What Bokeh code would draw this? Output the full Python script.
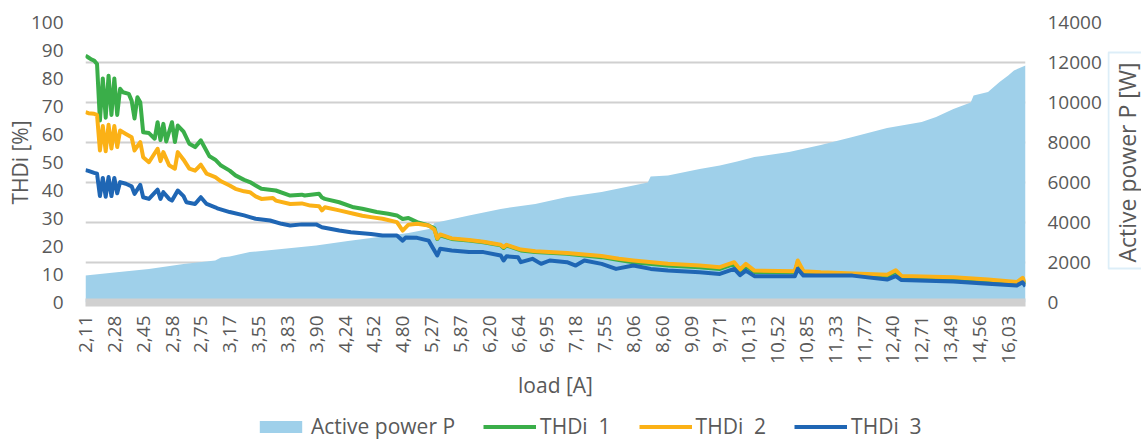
from math import pi
from bokeh.plotting import figure
from bokeh.layouts import row, column
from bokeh.models import (ColumnDataSource, Range1d, LinearAxis, FixedTicker,
                          Grid, Legend, LegendItem, BoxAnnotation)
from bokeh.embed import file_html
from bokeh.resources import INLINE

# ---------------- data ----------------
tick_labels = ["2,11", "2,28", "2,45", "2,58", "2,75", "3,17", "3,55", "3,83",
               "3,90", "4,24", "4,52", "4,80", "5,27", "5,87", "6,20", "6,64",
               "6,95", "7,18", "7,55", "8,06", "8,60", "9,09", "9,71", "10,13",
               "10,52", "10,85", "11,33", "11,77", "12,40", "12,71", "13,49",
               "14,56", "16,03"]
n_points = 327  # measurement index 0..326, every 10th one labelled

power_idx = [0, 10, 22, 34, 45, 47, 50, 57, 68, 80,
             91, 103, 112, 120, 121, 133, 144, 156, 167, 179,
             190, 195, 196, 202, 213, 220, 226, 232, 244, 255,
             266, 278, 290, 295, 301, 307, 308, 313, 317, 320,
             322, 326]
power_val = [1350, 1500, 1680, 1930, 2100, 2250, 2300, 2520, 2680, 2850,
             3070, 3300, 3470, 3700, 3980, 4350, 4680, 4930, 5270, 5520,
             5850, 6000, 6300, 6350, 6680, 6850, 7050, 7270, 7520, 7880,
             8270, 8720, 9020, 9270, 9680, 10000, 10350, 10520, 11020, 11350,
             11600, 11850]

thd1_idx = [0, 1, 2, 3, 4, 5, 6, 7, 8, 9,
            10, 11, 12, 13, 15, 16, 17, 18, 19, 20,
            22, 24, 25, 26, 27, 28, 30, 31, 32, 34,
            36, 38, 40, 41, 43, 45, 47, 50, 52, 55,
            57, 59, 61, 66, 71, 75, 76, 81, 82, 83,
            88, 93, 96, 101, 105, 108, 110, 112, 115, 119,
            121, 122, 123, 127, 133, 138, 144, 145, 146, 151,
            156, 167, 179, 185, 190, 202, 213, 220, 225, 227,
            229, 232, 246, 247, 249, 255, 266, 278, 281, 283,
            301, 313, 323, 325, 326]
thd1_val = [88.2, 87.5, 86.8, 86.4, 85.2, 65, 80, 66, 81, 67,
            80, 67, 76.3, 75.1, 74.5, 72.1, 65.7, 73.3, 71.5, 60.8,
            60.5, 58.5, 64.4, 58, 63.8, 57.5, 64.4, 57.3, 63.2, 61,
            56.7, 55.5, 57.9, 56, 52.2, 51, 48.9, 47.1, 45.4, 43.8,
            43, 41.8, 40.6, 40, 38.2, 38.5, 38.2, 38.8, 37.5, 37,
            35.8, 34, 33.5, 32.3, 31.7, 31.1, 29.8, 30.2, 28.7, 27.5,
            26.5, 22.7, 24, 22.7, 22.1, 21.5, 20.4, 19.5, 20.4, 18.6,
            18, 17.4, 16.2, 15.2, 14.4, 13.2, 12.6, 12, 13.8, 11.3,
            13.2, 10.9, 10.8, 14.4, 10.8, 10.3, 10.1, 9.4, 11, 9.1,
            8.5, 7.7, 6.8, 8.3, 6.5]

thd2_idx = [0, 1, 3, 4, 5, 6, 7, 8, 9, 10,
            11, 12, 14, 16, 17, 19, 20, 22, 25, 26,
            27, 29, 31, 32, 34, 36, 38, 40, 42, 45,
            47, 50, 52, 55, 57, 59, 61, 65, 66, 71,
            75, 78, 81, 82, 83, 88, 93, 96, 99, 103,
            108, 110, 112, 115, 119, 121, 122, 123, 127, 133,
            138, 144, 145, 146, 151, 156, 167, 179, 185, 190,
            202, 213, 220, 225, 227, 229, 232, 246, 247, 249,
            255, 278, 281, 283, 301, 313, 323, 325, 326]
thd2_val = [68, 67.6, 67.4, 67, 54.3, 63, 54, 63.5, 55, 63,
            55.5, 61.4, 60.2, 59, 54.3, 57.3, 51.9, 50.1, 54.9, 50.5,
            53.7, 49, 47.8, 53.7, 51, 47.8, 47.1, 49.2, 46, 44.8,
            43.3, 41.8, 40.6, 39.7, 39.4, 37.9, 37, 37.3, 36.4, 35.2,
            35.4, 34.6, 34.4, 32.9, 34, 32.9, 31.7, 31, 30.5, 29.9,
            28.7, 25.7, 27.8, 28.1, 27.5, 26, 22.9, 24.3, 22.9, 22.3,
            21.7, 20.6, 19.8, 20.6, 18.9, 18.3, 17.7, 16.6, 15.6, 15,
            13.8, 13.2, 12.6, 14.4, 11.8, 13.8, 11.4, 11.2, 15, 11.2,
            10.8, 9.9, 11.5, 9.5, 9.05, 8.2, 7.3, 8.8, 7]

thd3_idx = [0, 1, 3, 4, 5, 6, 7, 8, 9, 10,
            11, 12, 14, 16, 17, 19, 20, 22, 25, 26,
            27, 29, 30, 32, 34, 35, 38, 39, 40, 42,
            45, 46, 50, 55, 57, 59, 64, 68, 71, 75,
            80, 82, 88, 92, 99, 103, 108, 110, 111, 115,
            119, 122, 123, 127, 133, 138, 144, 145, 146, 150,
            151, 155, 158, 161, 167, 170, 173, 179, 184, 190,
            196, 202, 213, 220, 225, 227, 229, 232, 246, 247,
            249, 255, 266, 278, 281, 283, 301, 313, 323, 325,
            326]
thd3_val = [47.3, 47, 46.3, 46, 38, 44.5, 37.8, 44.8, 38, 44.5,
            39, 43, 42.4, 41.5, 38.8, 42, 37.6, 37, 40.3, 37,
            39.4, 37, 36.4, 40, 38, 35.8, 35.2, 36.4, 37.6, 35.2,
            34, 33.5, 32.3, 31.1, 30.5, 29.9, 29.3, 28.1, 27.5, 27.9,
            27.9, 26.9, 25.7, 25.1, 24.5, 23.9, 23.9, 22.1, 23.2, 23.1,
            22.1, 16.8, 19.2, 18.6, 18, 18, 16.8, 15, 16.5, 16.2,
            14.4, 15.6, 13.8, 15, 14.4, 13.2, 15, 13.8, 12, 13.2,
            12, 11.4, 10.8, 10.2, 12, 9.8, 11.4, 9.4, 9.4, 12,
            9.6, 9.6, 9.6, 8.2, 9.4, 8, 7.5, 6.7, 6.1, 7.2,
            5.8]

thd_ticks = list(range(0, 101, 10))
power_ticks = list(range(0, 14001, 2000))
legend_labels = ["Active power P", "THDi  1", "THDi  2", "THDi  3"]
right_title = "Active power P [W]"

# ---------------- styling ----------------
FONT = "Open Sans"
TXT = "#595959"
C_AREA = "#9fd0ea"
C_G = "#3aae49"
C_O = "#fbb116"
C_B = "#1f66b4"
MAIN_W, SIDE_W = 1107, 34
MAIN_H, LEG_H = 402, 39
FRAME_TOP, FRAME_BOTTOM = 22, 302

p = figure(width=MAIN_W, height=MAIN_H, output_backend="svg", toolbar_location=None,
           x_range=Range1d(0, n_points - 1), y_range=Range1d(0, 100),
           min_border_left=85, min_border_right=MAIN_W - 1025, min_border_top=FRAME_TOP,
           min_border_bottom=MAIN_H - FRAME_BOTTOM)
p.outline_line_color = None
p.background_fill_color = "white"
p.border_fill_color = "white"
p.extra_y_ranges = {"power": Range1d(0, 14000)}
p.xgrid.visible = False
p.ygrid.visible = False

grid = Grid(dimension=1, ticker=FixedTicker(ticks=power_ticks[1:]),
            y_range_name="power", grid_line_color="#d0d0d0", grid_line_width=2)
p.add_layout(grid)

src_p = ColumnDataSource(dict(x=power_idx, y=power_val))
src_1 = ColumnDataSource(dict(x=thd1_idx, y=thd1_val))
src_2 = ColumnDataSource(dict(x=thd2_idx, y=thd2_val))
src_3 = ColumnDataSource(dict(x=thd3_idx, y=thd3_val))

p.varea(x="x", y1=0, y2="y", source=src_p, fill_color=C_AREA, y_range_name="power")
p.line(x="x", y="y", source=src_1, line_color=C_G, line_width=4, line_join="round")
p.line(x="x", y="y", source=src_2, line_color=C_O, line_width=4, line_join="round")
p.line(x="x", y="y", source=src_3, line_color=C_B, line_width=4, line_join="round")


def plain_axis(ax, standoff, label_size="21px"):
    ax.axis_line_color = None
    ax.major_tick_line_color = None
    ax.minor_tick_line_color = None
    ax.major_tick_out = 0
    ax.major_tick_in = 0
    ax.minor_tick_out = 0
    ax.minor_tick_in = 0
    ax.major_label_standoff = standoff
    ax.major_label_text_font = FONT
    ax.major_label_text_font_size = "19px"
    ax.major_label_text_color = TXT
    ax.axis_label_text_font = FONT
    ax.axis_label_text_font_size = label_size
    ax.axis_label_text_font_style = "normal"
    ax.axis_label_text_color = TXT


# x axis
xa = p.xaxis[0]
plain_axis(xa, 13)
xa.ticker = FixedTicker(ticks=[i * 10 for i in range(len(tick_labels))])
xa.major_label_overrides = {i * 10: lab for i, lab in enumerate(tick_labels)}
xa.major_label_orientation = pi / 2
xa.axis_line_color = "#d0d0d0"
xa.axis_line_width = 8
xa.axis_label = "load [A]"
xa.axis_label_standoff = 4

# left axis
ya = p.yaxis[0]
plain_axis(ya, 22)
ya.ticker = FixedTicker(ticks=thd_ticks)
ya.axis_label = "THDi [%]"
ya.axis_label_standoff = -6

# right axis
ra = LinearAxis(y_range_name="power", ticker=FixedTicker(ticks=power_ticks))
plain_axis(ra, 22)
p.add_layout(ra, "right")

# narrow companion figure: boxed right-hand axis title (axis label drawn into its
# frame); its frame is level with the main frame, 1 y unit = 1 pixel
frame_h = FRAME_BOTTOM - FRAME_TOP
side = figure(width=SIDE_W, height=MAIN_H, output_backend="svg", toolbar_location=None,
              x_axis_type=None, min_border_left=0, min_border_right=0,
              min_border_top=FRAME_TOP, min_border_bottom=MAIN_H - FRAME_BOTTOM,
              x_range=Range1d(0, SIDE_W), y_range=Range1d(0, frame_h))
side.outline_line_color = None
side.xgrid.visible = False
side.ygrid.visible = False
sa = side.yaxis[0]
plain_axis(sa, 0, label_size="23px")
sa.ticker = FixedTicker(ticks=[])
sa.major_label_text_font_size = "0px"
sa.axis_label = right_title
sa.axis_label_standoff = -35
side.add_layout(BoxAnnotation(left=1, right=SIDE_W + 30,
                              bottom=FRAME_BOTTOM - 268, top=FRAME_BOTTOM - 52,
                              fill_alpha=0, line_color="#8ec8e8", line_width=2))

# legend strip below the chart (same series, drawn outside the visible range)
leg = figure(width=MAIN_W + SIDE_W, height=LEG_H, output_backend="svg",
             toolbar_location=None, x_axis_type=None, y_axis_type=None, min_border=0,
             x_range=Range1d(-20, -10), y_range=Range1d(0, 1))
leg.outline_line_color = None
leg.xgrid.visible = False
leg.ygrid.visible = False
leg.extra_y_ranges = {"power": Range1d(0, 14000)}
la = leg.varea(x="x", y1=0, y2="y", source=src_p, fill_color=C_AREA, y_range_name="power")
l1 = leg.line(x="x", y="y", source=src_1, line_color=C_G, line_width=4)
l2 = leg.line(x="x", y="y", source=src_2, line_color=C_O, line_width=4)
l3 = leg.line(x="x", y="y", source=src_3, line_color=C_B, line_width=4)
legend = Legend(items=[LegendItem(label=legend_labels[0], renderers=[la]),
                       LegendItem(label=legend_labels[1], renderers=[l1]),
                       LegendItem(label=legend_labels[2], renderers=[l2]),
                       LegendItem(label=legend_labels[3], renderers=[l3])],
                location=(254, 1), orientation="horizontal",
                glyph_width=53, glyph_height=15, label_standoff=4, spacing=28,
                padding=0, margin=0, border_line_color=None,
                background_fill_alpha=0, label_text_font=FONT,
                label_text_font_size="21px", label_text_color=TXT)
leg.add_layout(legend)

layout = column(row(p, side), leg)
open("out.html", "w").write(file_html(layout, INLINE))
